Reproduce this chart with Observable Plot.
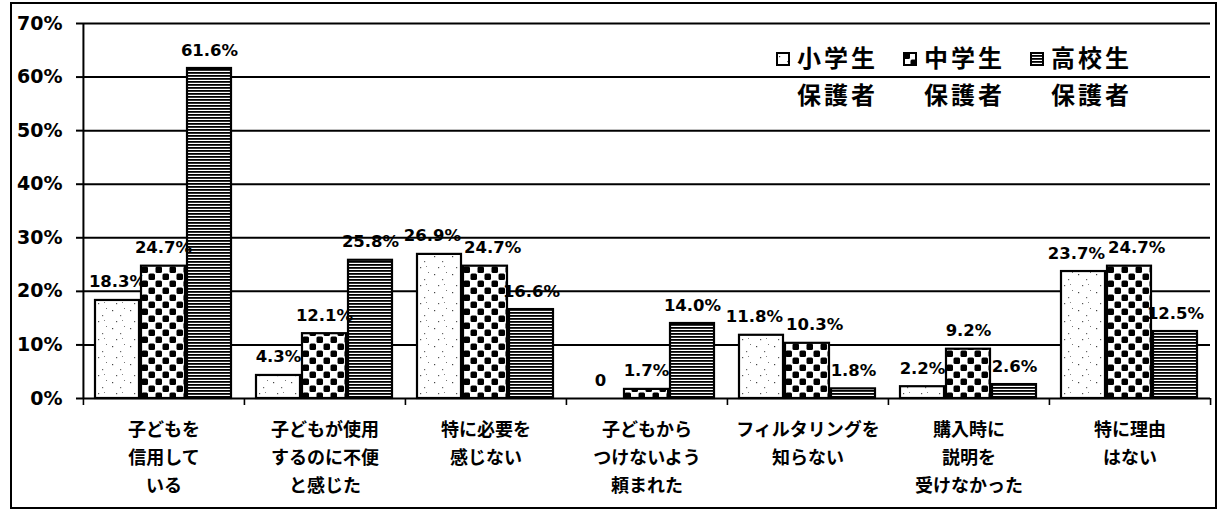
<!DOCTYPE html>
<html>
<head>
<meta charset="utf-8">
<script src="https://cdn.jsdelivr.net/npm/d3@7"></script>
<script src="https://cdn.jsdelivr.net/npm/@observablehq/plot@0.6"></script>
<style>
  html, body { margin: 0; padding: 0; background: #fff; }
  #wrap { position: relative; width: 1218px; height: 510px; font-family: "Noto Sans CJK JP", "Noto Sans", sans-serif; color: #000; }
  #border { position: absolute; left: 10px; top: 2px; width: 1203px; height: 503px; border: 2px solid #000; pointer-events: none; }
  #legend { position: absolute; left: 776px; top: 38px; display: flex; gap: 25px; font-weight: 700; font-size: 24px; letter-spacing: 3px; line-height: 37px; }
  .item { display: flex; align-items: flex-start; }
  .item svg { margin-top: 14px; margin-right: 7px; flex: none; }
</style>
</head>
<body>
<svg width="0" height="0" style="position:absolute">
  <defs>
    <pattern id="pDots" patternUnits="userSpaceOnUse" width="18" height="18">
      <rect width="18" height="18" fill="#fff"/>
      <rect x="3" y="4" width="1.2" height="1.2" fill="#444"/>
      <rect x="11" y="9" width="1.2" height="1.2" fill="#666"/>
      <rect x="7" y="15" width="1.2" height="1.2" fill="#555"/>
      <rect x="15" y="2" width="1" height="1" fill="#777"/>
      <rect x="13" y="14" width="1" height="1" fill="#888"/>
    </pattern>
    <pattern id="pCheck" patternUnits="userSpaceOnUse" width="14" height="14">
      <rect width="14" height="14" fill="#fff"/>
      <rect x="0.5" y="0.5" width="6.5" height="6.5" rx="1.5" fill="#000"/>
      <rect x="7.5" y="7.5" width="6.5" height="6.5" rx="1.5" fill="#000"/>
    </pattern>
    <pattern id="pStripe" patternUnits="userSpaceOnUse" width="6" height="3">
      <rect width="6" height="3" fill="#fff"/>
      <rect x="0" y="0" width="6" height="1.8" fill="#000"/>
    </pattern>
  </defs>
</svg>
<div id="wrap">
  <div id="chart"></div>
  <div id="legend"></div>
  <div id="border"></div>
</div>
<script>
// ---- data ----
const categories = [
  "子どもを\n信用して\nいる",
  "子どもが使用\nするのに不便\nと感じた",
  "特に必要を\n感じない",
  "子どもから\nつけないよう\n頼まれた",
  "フィルタリングを\n知らない",
  "購入時に\n説明を\n受けなかった",
  "特に理由\nはない"
];
const series = ["小学生保護者", "中学生保護者", "高校生保護者"];
const legendLine1 = ["小学生", "中学生", "高校生"];
const legendLine2 = ["保護者", "保護者", "保護者"];
const elementary = [18.3, 4.3, 26.9, 0, 11.8, 2.2, 23.7];
const juniorHigh = [24.7, 12.1, 24.7, 1.7, 10.3, 9.2, 24.7];
const highSchool = [61.6, 25.8, 16.6, 14.0, 1.8, 2.6, 12.5];
const yTicks = [0, 10, 20, 30, 40, 50, 60, 70];
const patterns = ["url(#pDots)", "url(#pCheck)", "url(#pStripe)"];

const rows = [];
categories.forEach((c, i) => {
  [elementary, juniorHigh, highSchool].forEach((arr, j) => {
    rows.push({category: c, series: series[j], value: arr[i]});
  });
});
const fmt = v => v === 0 ? "0" : v.toFixed(1) + "%";

const W = 1218, H = 510, mL = 82, mR = 8, mT = 23, mB = 112;
const bw = (W - mL - mR) / categories.length;
const font = '"Noto Sans CJK JP", "Noto Sans", sans-serif';
const numFont = '"DejaVu Sans", "Noto Sans", sans-serif';
const labelSize = 16.5;

// label collision avoidance: push neighbouring value labels apart horizontally
const mctx = document.createElement("canvas").getContext("2d");
mctx.font = `700 ${labelSize}px "DejaVu Sans"`;
const textW = t => mctx.measureText(String(t)).width;
function repel(index, scales, values, dimensions, context, next) {
  const X = Array.from(values.x), Y = values.y, T = values.text;
  const order = Array.from(index).sort((a, b) => X[a] - X[b]);
  const lh = labelSize * 1.15, gap = 3;
  for (let iter = 0; iter < 30; iter++) {
    let moved = false;
    for (let k = 0; k < order.length - 1; k++) {
      const a = order[k], b = order[k + 1];
      if (Math.abs(Y[a] - Y[b]) >= lh) continue;
      const need = (textW(T[a]) + textW(T[b])) / 2 + gap;
      const d = X[b] - X[a];
      if (d < need) { const s = (need - d) / 2; X[a] -= s; X[b] += s; moved = true; }
    }
    if (!moved) break;
  }
  return next(index, scales, {...values, x: X}, dimensions, context);
}

const chart = Plot.plot({
  width: W, height: H,
  marginLeft: mL, marginRight: mR, marginTop: mT, marginBottom: mB,
  style: {fontFamily: font, fontWeight: 700, fontSize: "16px", color: "#000", background: "transparent", overflow: "visible"},
  fx: {domain: categories, padding: 0},
  x: {domain: series, paddingInner: 0.04, paddingOuter: 0.27, axis: null},
  y: {domain: [0, 70]},
  color: {type: "ordinal", domain: series, range: patterns},
  marks: [
    Plot.gridY(yTicks.slice(1), {stroke: "#000", strokeOpacity: 1, strokeWidth: 2}),
    Plot.ruleY([0], {stroke: "#000", strokeWidth: 2}),
    Plot.barY(rows, {fx: "category", x: "series", y: "value", fill: "series", stroke: "#000", strokeWidth: 2.2}),
    Plot.text(rows, {fx: "category", x: "series", y: "value", text: d => fmt(d.value), lineAnchor: "bottom", dy: -13, fontSize: labelSize, fontWeight: 700, fontFamily: numFont, fill: "#000", render: repel}),
    Plot.axisY({ticks: yTicks, tickFormat: d => d + "%", tickSize: 7, tickPadding: 14, fontSize: 19, fontWeight: 700, fontFamily: numFont, label: null, strokeWidth: 2}),
    Plot.ruleX([categories[0]], {fx: d => d, x: null, y1: 0, y2: 70, dx: -bw / 2, stroke: "#000", strokeWidth: 2}),
    Plot.axisFx({anchor: "bottom", tickSize: 0, tickPadding: 18, fontSize: 18, fontWeight: 700, lineHeight: 1.55, label: null}),
    Plot.axisFx({anchor: "bottom", tickSize: 7, fill: "none", dx: -bw / 2, label: null, strokeWidth: 1.6}),
    Plot.axisFx({anchor: "bottom", ticks: [categories[categories.length - 1]], tickSize: 7, fill: "none", dx: bw / 2, label: null, strokeWidth: 1.6})
  ]
});
document.getElementById("chart").appendChild(chart);

// legend
const legend = document.getElementById("legend");
series.forEach((s, i) => {
  const item = document.createElement("div");
  item.className = "item";
  item.innerHTML = `<svg width="14" height="14"><rect x="1" y="1" width="12" height="12" fill="${patterns[i]}" stroke="#000" stroke-width="2"/></svg><div>${legendLine1[i]}<br>${legendLine2[i]}</div>`;
  legend.appendChild(item);
});
</script>
</body>
</html>
